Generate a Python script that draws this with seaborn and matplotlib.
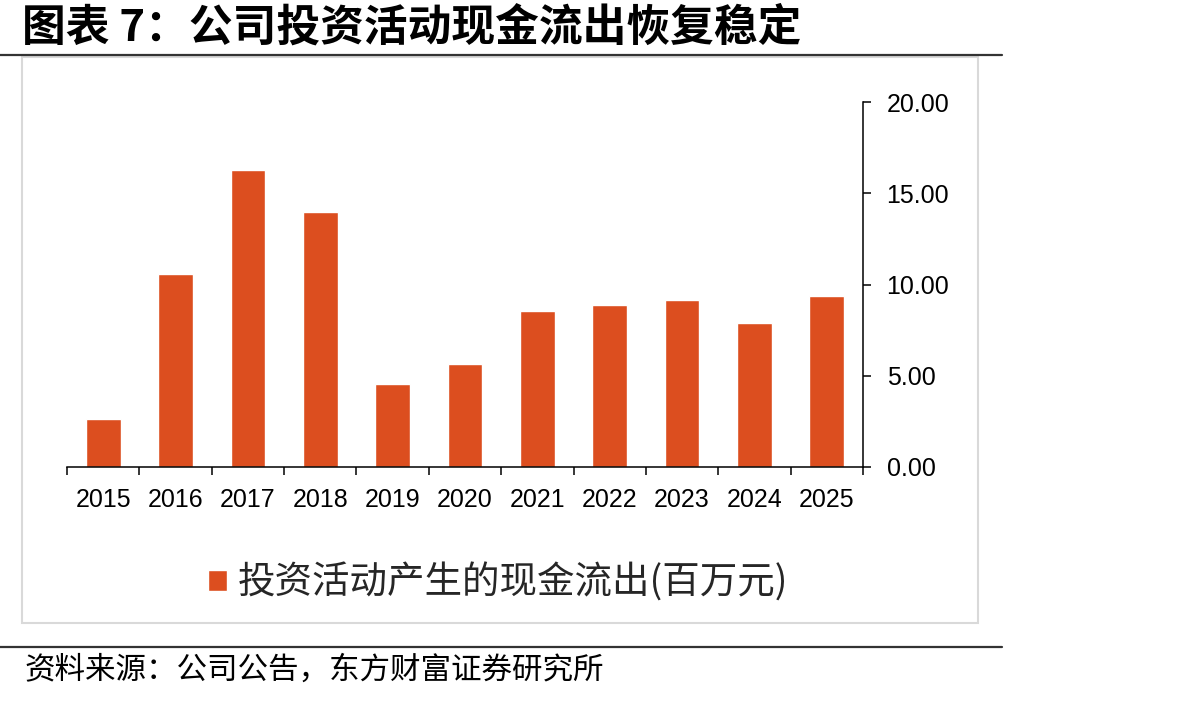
import matplotlib
matplotlib.use('Agg')
import matplotlib.pyplot as plt
import seaborn as sns
import pandas as pd
from matplotlib.lines import Line2D
from matplotlib.patches import Rectangle
from matplotlib.ticker import FixedLocator

# data
years = ['2015', '2016', '2017', '2018', '2019', '2020', '2021', '2022', '2023', '2024', '2025']
cash_out = [2.63, 10.56, 16.27, 13.97, 4.55, 5.64, 8.55, 8.86, 9.15, 7.87, 9.35]
y_ticks = [0, 5, 10, 15, 20]
series_name = '投资活动产生的现金流出(百万元)'
title_text = '图表 7：公司投资活动现金流出恢复稳定'
source_text = '资料来源：公司公告，东方财富证券研究所'

bar_color = '#DC4E1F'

sns.set_style('white')
plt.rcParams['font.family'] = ['Noto Sans CJK SC', 'DejaVu Sans']
plt.rcParams['axes.unicode_minus'] = False

W, H = 1192, 701
fig = plt.figure(figsize=(W / 100, H / 100), dpi=100)
ax = fig.add_axes([67 / W, 1 - 467 / H, (863 - 67) / W, (467 - 102) / H])

df = pd.DataFrame({'year': years, 'value': cash_out})
sns.barplot(data=df, x='year', y='value', color=bar_color, width=0.48,
            saturation=1, label=series_name, ax=ax)

ax.set_xlim(-0.5, len(years) - 0.5)
ax.set_ylim(0, 20)
ax.set_xlabel('')
ax.set_ylabel('')

# spines: bottom and right only
for s in ['top', 'left']:
    ax.spines[s].set_visible(False)
for s in ['bottom', 'right']:
    ax.spines[s].set_color('#000000')
    ax.spines[s].set_linewidth(1.1)

# y axis on the right
ax.yaxis.tick_right()
ax.set_yticks(y_ticks)
ax.set_yticklabels([f'{v:.2f}' for v in y_ticks], fontfamily='Liberation Sans', fontsize=18)
ax.tick_params(axis='y', direction='out', length=6, width=1.1, pad=11, colors='#000000')

# x axis: labels at centres, tick marks at boundaries
ax.set_xticks(range(len(years)))
ax.set_xticklabels(years, fontfamily='Liberation Sans', fontsize=18)
ax.xaxis.set_minor_locator(FixedLocator([i - 0.5 for i in range(len(years) + 1)]))
ax.tick_params(axis='x', which='both', bottom=True)
ax.tick_params(axis='x', which='major', length=0, pad=15, colors='#000000')
ax.tick_params(axis='x', which='minor', direction='out', length=6, width=1.1, color='#000000')

# legend below the plot
leg = ax.legend(loc='center left', bbox_to_anchor=(208 / W, 1 - 583 / H),
                bbox_transform=fig.transFigure, frameon=False, fontsize=27,
                handlelength=0.5, handleheight=0.5, handletextpad=0.3,
                borderpad=0, borderaxespad=0)

# frame, rules and texts
fig.add_artist(Rectangle((22 / W, 1 - 623 / H), (978 - 22) / W, (623 - 57) / H,
                         transform=fig.transFigure, fill=False, ec='#d9d9d9', lw=1.5))
fig.add_artist(Line2D([0, 1002 / W], [1 - 55 / H] * 2, transform=fig.transFigure,
                      color='#333333', lw=1.6))
fig.add_artist(Line2D([0, 1002 / W], [1 - 647 / H] * 2, transform=fig.transFigure,
                      color='#333333', lw=1.6))

fig.text(22 / W, 1 - 28 / H, title_text, fontsize=31.5, fontweight='bold',
         va='center', ha='left', color='#000000')
fig.text(24 / W, 1 - 670 / H, source_text, fontsize=22, va='center', ha='left',
         color='#000000')

fig.savefig('out.png', dpi=100, facecolor='white')
